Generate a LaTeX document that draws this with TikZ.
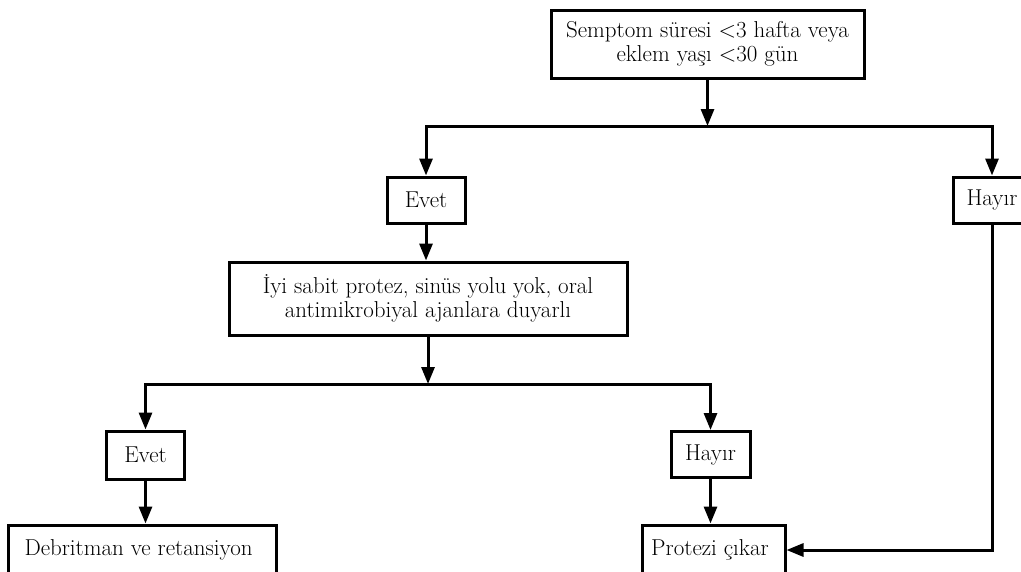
\documentclass[tikz,border=0pt]{standalone}
\usepackage{tikz}
\usetikzlibrary{arrows.meta,
positioning,
calc}

\begin{document}
\begin{tikzpicture}[
    x=1pt,
    y=-1pt,
    font=\fontsize{23}{24.5}\selectfont,
    step box/.style={
        draw,
        line width=3pt,
        align=center,
        inner sep=4pt,
        fill=white
    },
    answer/.style={
        step box,
        minimum width=78pt,
        minimum height=46pt
    },
    flow/.style={
        -{Triangle[length=17pt,width=13pt]},
        line width=3pt
    },
    bus/.style={
        line width=3pt,
        line cap=rect
    }
]

\useasboundingbox (0,0) rectangle (1021,571);
\clip (0,0) rectangle (1021,571);

%------------------------------------------------------------------------------
% Question boxes
%------------------------------------------------------------------------------

\node[step box, minimum width=313pt, minimum height=68pt] (symptom) at (707.5,44)
{
    Semptom süresi <3 hafta veya\\
    eklem yaşı <30 gün
};

\node[step box, minimum width=398pt, minimum height=73pt] (stable) at (428,298.5)
{
    İyi sabit protez, sinüs yolu yok, oral\\
    antimikrobiyal ajanlara duyarlı
};

%------------------------------------------------------------------------------
% Answers
%------------------------------------------------------------------------------

\node[answer] (yesOne) at (426,200) {Evet};
\node[answer] (noOne) at (992,200) {Hayır};

\node[answer, minimum height=48pt] (yesTwo) at (145.5,455) {Evet};
\node[answer, minimum width=79pt] (noTwo) at (710.5,454.5) {Hayır};

%------------------------------------------------------------------------------
% Outcomes (cut by the lower edge)
%------------------------------------------------------------------------------

\node[step box, minimum width=268pt, minimum height=50pt] (debride) at (142,550)
{
    Debritman ve retansiyon
};

\node[step box, minimum width=143pt, minimum height=50pt] (remove) at (713.5,550)
{
    Protezi çıkar
};

%------------------------------------------------------------------------------
% Branch points
%------------------------------------------------------------------------------

\coordinate (splitOne) at (symptom.south |- 0,126);
\coordinate (splitTwo) at (stable.south |- 0,384);

%------------------------------------------------------------------------------
% Connectors
%------------------------------------------------------------------------------

\draw[flow] (symptom.south) -- (splitOne);
\draw[bus] (yesOne.north |- splitOne) -- (noOne.north |- splitOne);
\draw[flow] (yesOne.north |- splitOne) -- (yesOne.north);
\draw[flow] (noOne.north |- splitOne) -- (noOne.north);

\draw[flow] (yesOne.south) -- (stable.north -| yesOne.south);

\draw[flow] (stable.south) -- (splitTwo);
\draw[bus] (yesTwo.north |- splitTwo) -- (noTwo.north |- splitTwo);
\draw[flow] (yesTwo.north |- splitTwo) -- (yesTwo.north);
\draw[flow] (noTwo.north |- splitTwo) -- (noTwo.north);

\draw[flow] (yesTwo.south) -- (debride.north -| yesTwo.south);
\draw[flow] (noTwo.south) -- (remove.north -| noTwo.south);

\draw[flow] (noOne.south) |- (remove.east);

\end{tikzpicture}
\end{document}
